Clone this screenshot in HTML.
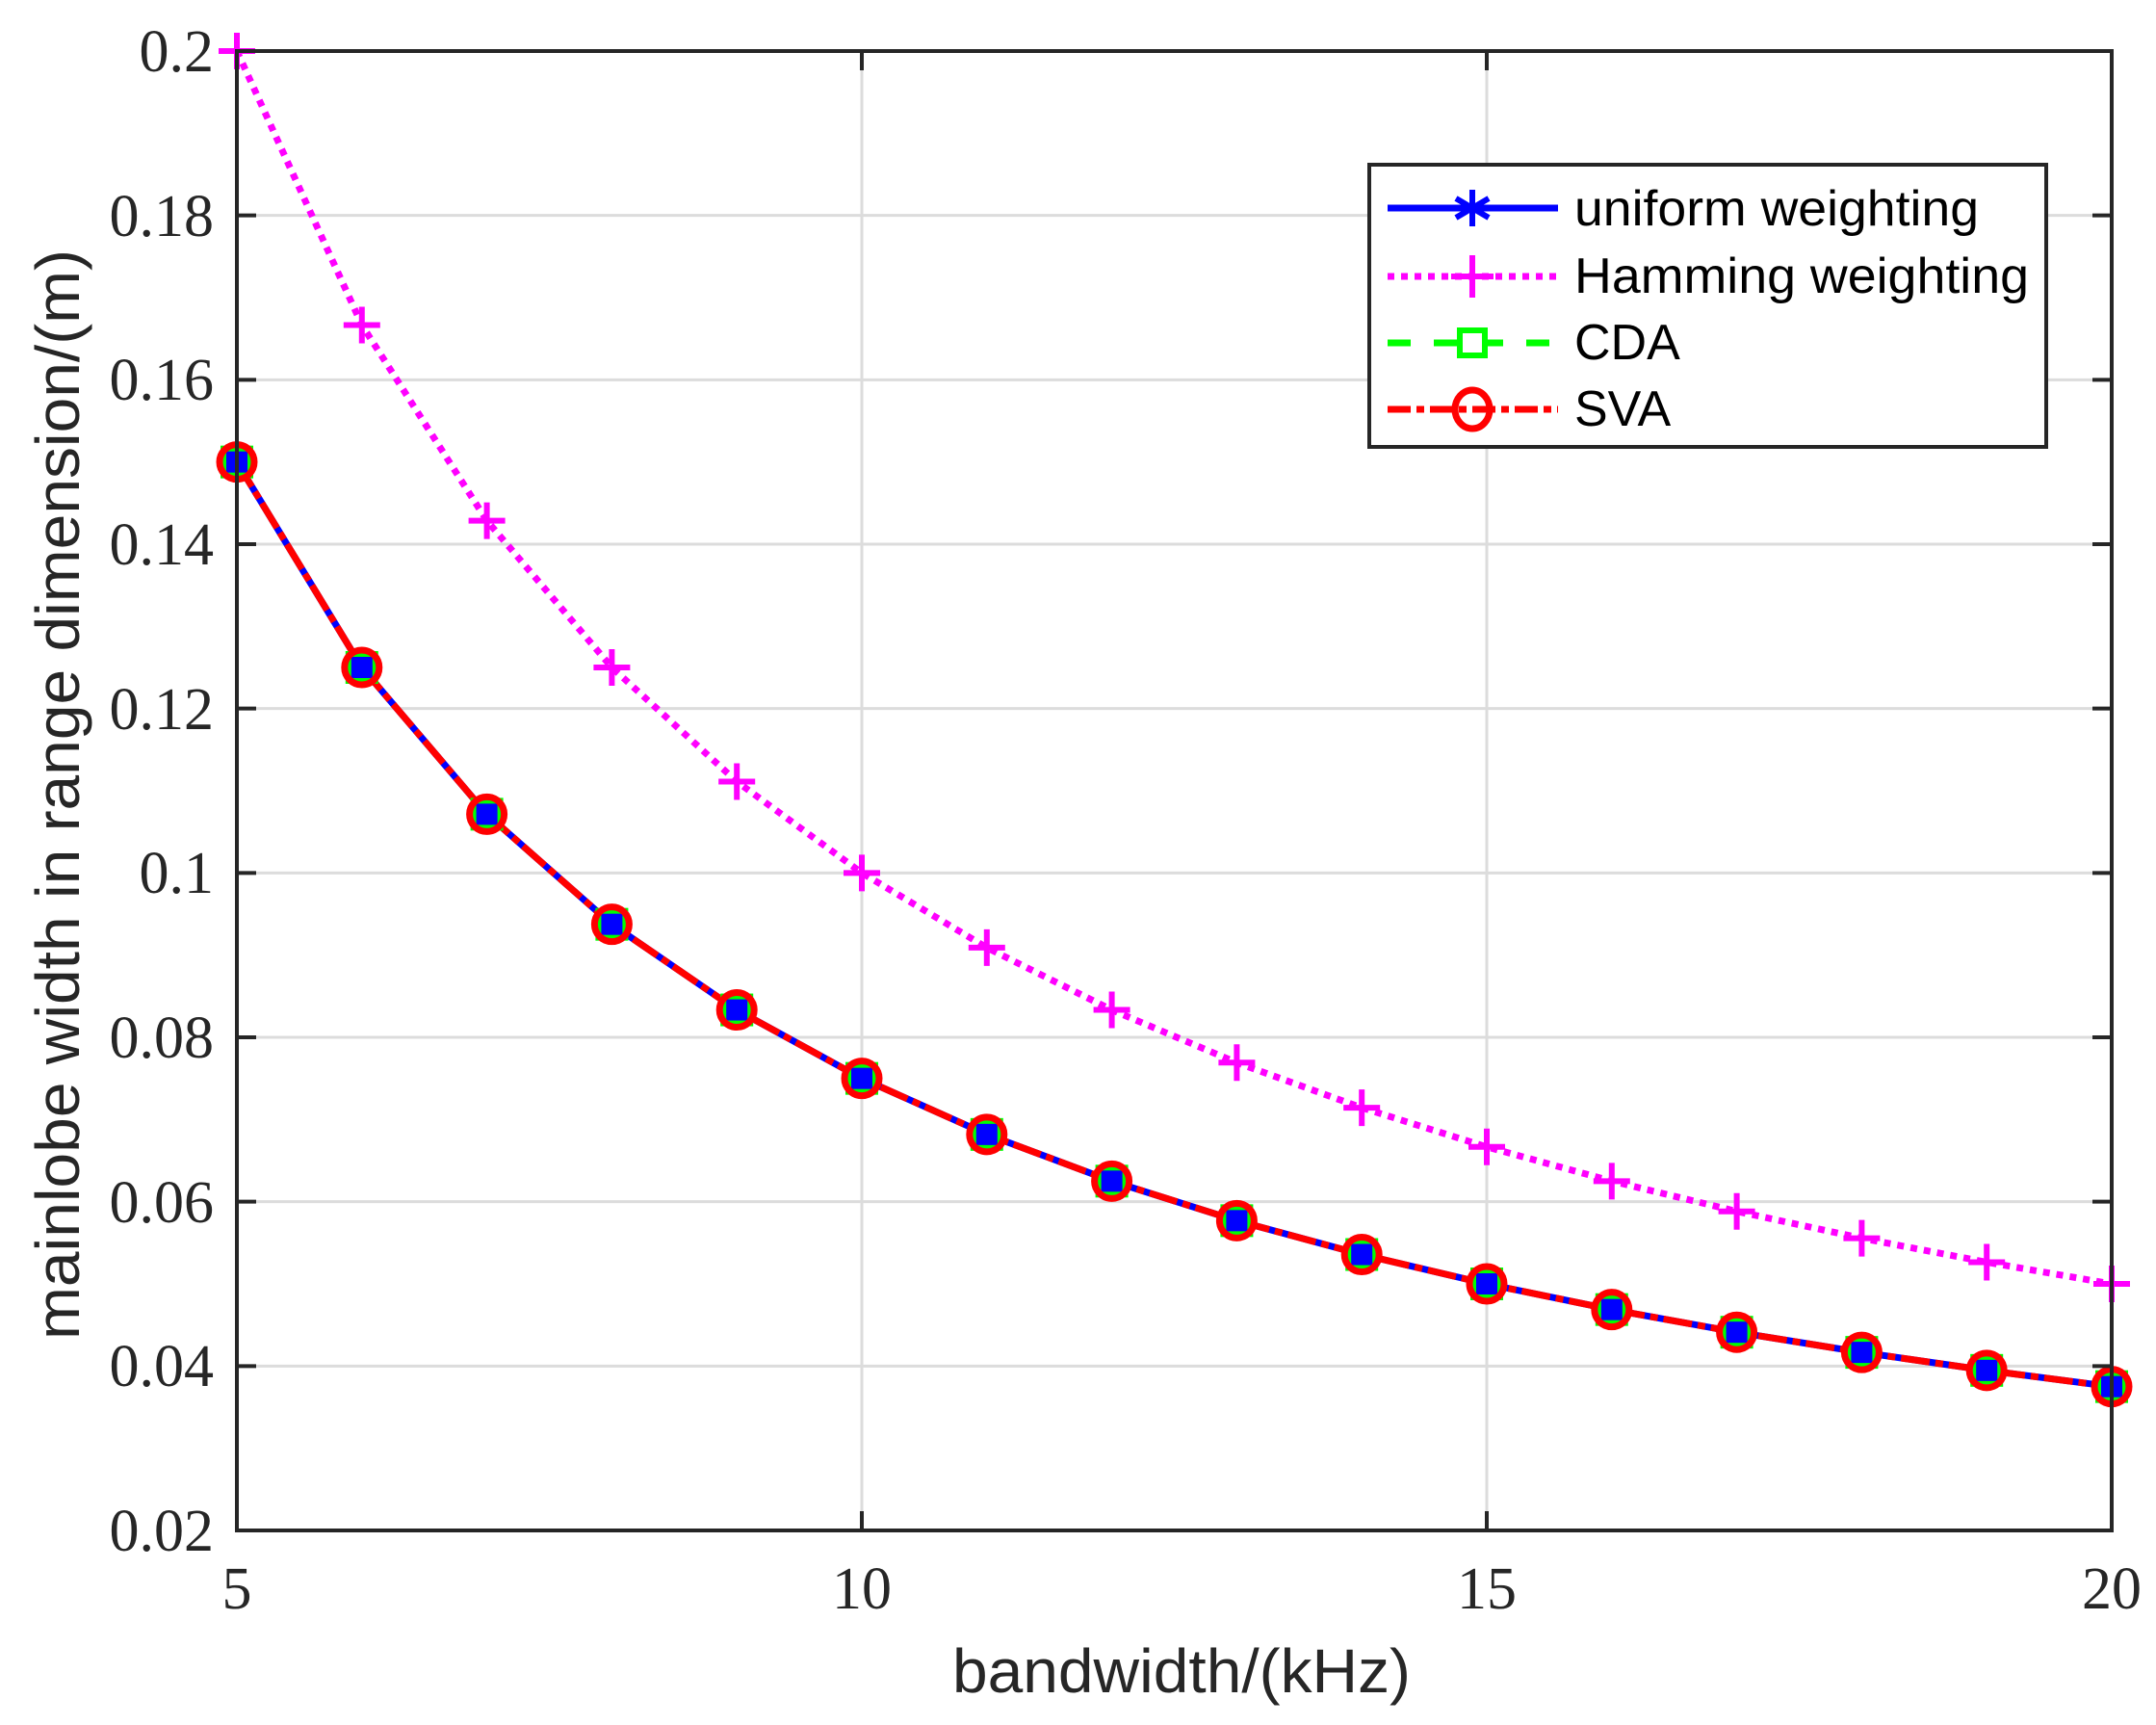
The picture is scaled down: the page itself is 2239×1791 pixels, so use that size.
<!DOCTYPE html>
<html><head><meta charset="utf-8"><style>html,body{margin:0;padding:0;background:#fff}svg{display:block}</style></head>
<body>
<svg id="s" width="2239" height="1791" viewBox="0 0 2239 1791" xmlns="http://www.w3.org/2000/svg">
<rect width="2239" height="1791" fill="#fff"/>
<g id="grid" stroke="#dcdcdc" stroke-width="3"></g>
<g id="data"></g>
<rect x="246" y="53" width="1947" height="1536" fill="none" stroke="#262626" stroke-width="4"/>
<g id="ticks" stroke="#262626" stroke-width="4"></g>
<g font-family="'Liberation Serif', serif" font-size="62" fill="#262626" text-anchor="end">
<text x="222" y="74">0.2</text>
<text x="222" y="245">0.18</text>
<text x="222" y="415">0.16</text>
<text x="222" y="586">0.14</text>
<text x="222" y="757">0.12</text>
<text x="222" y="927">0.1</text>
<text x="222" y="1098">0.08</text>
<text x="222" y="1269">0.06</text>
<text x="222" y="1439">0.04</text>
<text x="222" y="1610">0.02</text>
</g>
<g font-family="'Liberation Serif', serif" font-size="62" fill="#262626" text-anchor="middle">
<text x="246" y="1670">5</text>
<text x="895" y="1670">10</text>
<text x="1544" y="1670">15</text>
<text x="2193" y="1670">20</text>
</g>
<text x="1227" y="1757" font-family="'Liberation Sans', sans-serif" font-size="64" fill="#262626" text-anchor="middle" textLength="476" lengthAdjust="spacingAndGlyphs">bandwidth/(kHz)</text>
<text transform="translate(82,825) rotate(-90)" font-family="'Liberation Sans', sans-serif" font-size="64" fill="#262626" text-anchor="middle" textLength="1132" lengthAdjust="spacingAndGlyphs">mainlobe width in range dimension/(m)</text>
<rect x="1422" y="171" width="703" height="293" fill="#fff" stroke="#262626" stroke-width="4"/>
<g id="leg"></g>
<g font-family="'Liberation Sans', sans-serif" font-size="52" fill="#000">
<text x="1635" y="234" textLength="420" lengthAdjust="spacingAndGlyphs">uniform weighting</text>
<text x="1635" y="304" textLength="472" lengthAdjust="spacingAndGlyphs">Hamming weighting</text>
<text x="1635" y="373">CDA</text>
<text x="1635" y="442">SVA</text>
</g>
</svg>
<script>
const NS="http://www.w3.org/2000/svg";
function el(p,t,a){const e=document.createElementNS(NS,t);for(const k in a)e.setAttribute(k,a[k]);p.appendChild(e);return e;}
const X=b=>246+(b-5)*129.8, Y=v=>1589-(v-0.02)/0.18*1536;
const g=document.getElementById('grid'),tk=document.getElementById('ticks'),d=document.getElementById('data'),lg=document.getElementById('leg');
for(let i=1;i<=8;i++){const y=Y(0.02+i*0.02);el(g,'line',{x1:246,x2:2193,y1:y,y2:y});}
for(const b of [10,15]){el(g,'line',{x1:X(b),x2:X(b),y1:53,y2:1589});}
for(let i=0;i<=9;i++){const y=Y(0.02+i*0.02);el(tk,'line',{x1:246,x2:266,y1:y,y2:y});el(tk,'line',{x1:2173,x2:2193,y1:y,y2:y});}
for(const b of [5,10,15,20]){el(tk,'line',{x1:X(b),x2:X(b),y1:1589,y2:1569});el(tk,'line',{x1:X(b),x2:X(b),y1:53,y2:73});}
const B=[];for(let b=5;b<=20;b++)B.push(b);
const pts=f=>B.map(b=>X(b).toFixed(1)+','+Y(f(b)).toFixed(1)).join(' ');
el(d,'polyline',{points:pts(b=>1/b),fill:'none',stroke:'#ff00ff','stroke-width':7,'stroke-dasharray':'7 7'});
for(const b of B){const x=X(b),y=Y(1/b);el(d,'path',{d:`M${x-19},${y}H${x+19}M${x},${y-19}V${y+19}`,stroke:'#ff00ff','stroke-width':6});}
el(d,'polyline',{points:pts(b=>.75/b),fill:'none',stroke:'#0000ff','stroke-width':7});
el(d,'polyline',{points:pts(b=>.75/b),fill:'none',stroke:'#ff0000','stroke-width':7,'stroke-dasharray':'30 6 8 6'});
for(const b of B){const x=X(b),y=Y(.75/b);
el(d,'rect',{x:x-14,y:y-14,width:28,height:28,fill:'#0000ff',stroke:'#00ff00','stroke-width':6});
el(d,'circle',{cx:x,cy:y,r:18,fill:'none',stroke:'#ff0000','stroke-width':7});}
const rows=[216,287,356,425], o=-8;
el(lg,'line',{x1:1449+o,x2:1626+o,y1:rows[0],y2:rows[0],stroke:'#0000ff','stroke-width':7});
el(lg,'path',{d:`M${1537+o},${rows[0]-19}V${rows[0]+19}M${1520+o},${rows[0]-10}L${1554+o},${rows[0]+10}M${1520+o},${rows[0]+10}L${1554+o},${rows[0]-10}`,stroke:'#0000ff','stroke-width':6});
el(lg,'line',{x1:1449+o,x2:1626+o,y1:rows[1],y2:rows[1],stroke:'#ff00ff','stroke-width':7,'stroke-dasharray':'7 7'});
el(lg,'path',{d:`M${1515+o},${rows[1]}H${1559+o}M${1537+o},${rows[1]-22}V${rows[1]+22}`,stroke:'#ff00ff','stroke-width':6});
el(lg,'line',{x1:1449+o,x2:1626+o,y1:rows[2],y2:rows[2],stroke:'#00ff00','stroke-width':7,'stroke-dasharray':'24 24'});
el(lg,'rect',{x:1524+o,y:rows[2]-13,width:26,height:26,fill:'#fff',stroke:'#00ff00','stroke-width':6});
el(lg,'line',{x1:1449+o,x2:1626+o,y1:rows[3],y2:rows[3],stroke:'#ff0000','stroke-width':7,'stroke-dasharray':'24 6 8 6'});
el(lg,'ellipse',{cx:1537+o,cy:rows[3],rx:18,ry:20,fill:'none',stroke:'#ff0000','stroke-width':7});
</script>
</body></html>
